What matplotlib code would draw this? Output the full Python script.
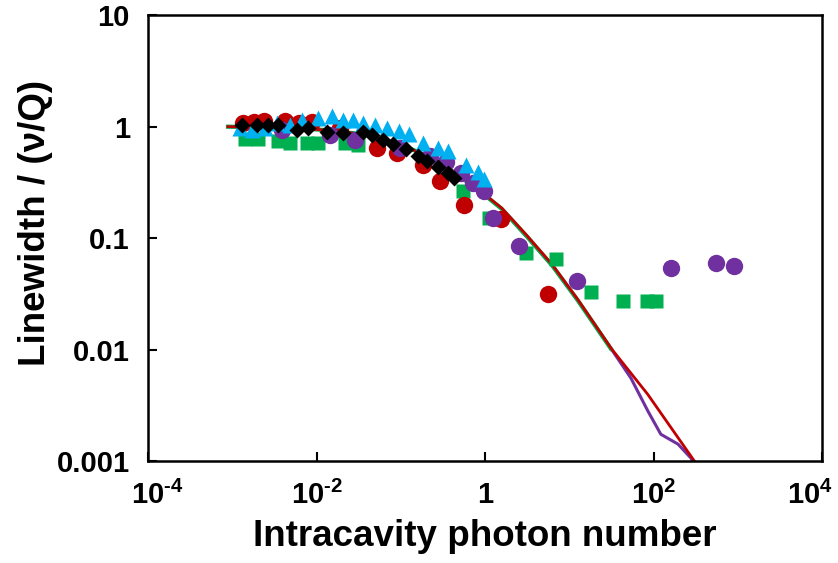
import numpy as np
import matplotlib
matplotlib.use("Agg")
import matplotlib.pyplot as plt
import matplotlib.transforms as mtransforms

plt.rcParams['font.family'] = ['Liberation Sans', 'DejaVu Sans']
plt.rcParams['font.weight'] = 'bold'
plt.rcParams['mathtext.fontset'] = 'custom'
plt.rcParams['mathtext.rm'] = 'Liberation Sans:bold'
plt.rcParams['mathtext.it'] = 'Liberation Sans:bold'
plt.rcParams['mathtext.bf'] = 'Liberation Sans:bold'

# measured points (photon number, linewidth normalised to nu/Q)
red_x = [0.00135, 0.0018, 0.00239, 0.00426, 0.0062, 0.00891, 0.0192, 0.0528, 0.0914, 0.186, 0.296, 0.557, 1.53, 5.55]
red_y = [1.08, 1.10, 1.12, 1.12, 1.08, 1.10, 0.97, 0.65, 0.586, 0.457, 0.328, 0.200, 0.149, 0.0316]

green_x = [0.00142, 0.00203, 0.00352, 0.00488, 0.00778, 0.0105, 0.022, 0.0314,
           0.542, 1.10, 3.04, 6.92, 18.0, 43.3, 83.6, 107]
green_y = [0.78, 0.78, 0.74, 0.72, 0.71, 0.71, 0.71, 0.68,
           0.267, 0.152, 0.074, 0.0653, 0.033, 0.0274, 0.0274, 0.0274]

purple_x = [0.00392, 0.0146, 0.0289, 0.0991, 0.225, 0.340, 0.513, 0.713, 0.962,
            1.23, 2.51, 12.3, 161, 552, 904]
purple_y = [0.925, 0.834, 0.752, 0.650, 0.551, 0.486, 0.387, 0.315, 0.267,
            0.152, 0.0855, 0.0414, 0.0542, 0.0601, 0.0565]

blue_x = [0.00124, 0.00173, 0.00246, 0.00342, 0.00488, 0.00678, 0.0105, 0.0154, 0.0208,
          0.0274, 0.036, 0.05, 0.0695, 0.094, 0.124, 0.186, 0.273, 0.359, 0.587, 0.817, 0.962]
blue_y = [0.964, 0.925, 0.964, 1.07, 1.03, 1.14, 1.19, 1.24, 1.14,
          1.14, 1.09, 1.03, 0.964, 0.906, 0.851, 0.721, 0.650, 0.611, 0.457, 0.395, 0.342]

black_x = [0.00131, 0.00198, 0.00267, 0.00352, 0.00592, 0.00798, 0.0134, 0.0208, 0.036,
           0.046, 0.0622, 0.0818, 0.114, 0.158, 0.207, 0.273, 0.359, 0.424]
black_y = [1.03, 1.03, 1.03, 1.03, 0.925, 0.964, 0.887, 0.869, 0.887,
           0.834, 0.752, 0.706, 0.637, 0.551, 0.497, 0.439, 0.387, 0.349]

# theory curves
red_cx = [0.00089, 0.0025, 0.0063, 0.0158, 0.0398, 0.1, 0.2, 0.398, 0.794, 1.58, 3.16, 6.31, 12.6, 31.6, 85.1, 355]
red_cy = [1.0, 0.989, 0.966, 0.923, 0.841, 0.692, 0.55, 0.407, 0.282, 0.186, 0.105, 0.0575, 0.0282, 0.0102, 0.00398, 0.00085]

green_cx = [0.00089, 0.0025, 0.0063, 0.0158, 0.0398, 0.1, 0.2, 0.398, 0.794, 1.58, 3.16, 6.31, 12.6, 31.1]
green_cy = [1.0, 0.989, 0.966, 0.923, 0.841, 0.692, 0.55, 0.405, 0.279, 0.183, 0.103, 0.0565, 0.0277, 0.0102]

purple_cx = [0.00089, 0.0025, 0.0063, 0.0158, 0.0398, 0.1, 0.2, 0.398, 0.794, 1.58, 3.16, 6.31, 12.6, 31.6,
             53.8, 85.7, 122, 195, 279, 320]
purple_cy = [1.0, 0.989, 0.966, 0.923, 0.841, 0.692, 0.55, 0.404, 0.278, 0.182, 0.102, 0.056, 0.0275, 0.0101,
             0.00556, 0.00281, 0.00174, 0.00142, 0.00106, 0.00088]

xticks = [1e-4, 1e-2, 1, 1e2, 1e4]
xticklabels = [r'10$^{\text{-4}}$', r'10$^{\text{-2}}$', '1', r'10$^{\text{2}}$', r'10$^{\text{4}}$']
yticks = [0.001, 0.01, 0.1, 1, 10]
yticklabels = ['0.001', '0.01', '0.1', '1', '10']

c_red = '#C00000'
c_green = '#00B050'
c_purple = '#7030A0'
c_blue = '#00B0F0'

fig = plt.figure(figsize=(8.38, 5.63), dpi=100)
ax = fig.add_axes([0.1766, 0.181, 0.8044, 0.792])

ax.plot(purple_cx, purple_cy, color=c_purple, lw=2.2, zorder=1)
ax.plot(green_cx, green_cy, color=c_green, lw=3.0, zorder=1.1)
ax.plot(red_cx, red_cy, color=c_red, lw=2.0, zorder=1.2)

ax.plot(green_x, green_y, 's', color=c_green, ms=10.5, mec='none', zorder=2)
ax.plot(red_x, red_y, 'o', color=c_red, ms=12.5, mec='none', zorder=3)
ax.plot(purple_x, purple_y, 'o', color=c_purple, ms=12.5, mec='none', zorder=4)
ax.plot(blue_x, blue_y, '^', color=c_blue, ms=12, mec='none', zorder=5)
ax.plot(black_x, black_y, 'D', color='black', ms=8.5, mec='none', zorder=6)

ax.set_xscale('log')
ax.set_yscale('log')
ax.set_xlim(1e-4, 1e4)
ax.set_ylim(0.001, 10)
ax.set_xticks(xticks)
ax.set_xticklabels(xticklabels)
ax.set_yticks(yticks)
ax.set_yticklabels(yticklabels)
ax.minorticks_off()
ax.tick_params(direction='in', length=6.5, width=1.5, labelsize=21, pad=14)
ax.tick_params(axis='y', pad=13)
for s in ax.spines.values():
    s.set_linewidth(1.8)

# nudge the outer x labels inward like the original
labs = ax.get_xticklabels()
labs[0].set_transform(labs[0].get_transform() + mtransforms.ScaledTranslation(9 / 100, 0, fig.dpi_scale_trans))
labs[-1].set_transform(labs[-1].get_transform() + mtransforms.ScaledTranslation(-12 / 100, 0, fig.dpi_scale_trans))

ax.set_xlabel('Intracavity photon number', fontsize=26.5, fontweight='bold', labelpad=7)
ax.set_ylabel('Linewidth / (\u03bd/Q)', fontsize=26.5, fontweight='bold')
ax.yaxis.set_label_coords(-0.141, 0.535)

fig.savefig('out.png', dpi=100)
